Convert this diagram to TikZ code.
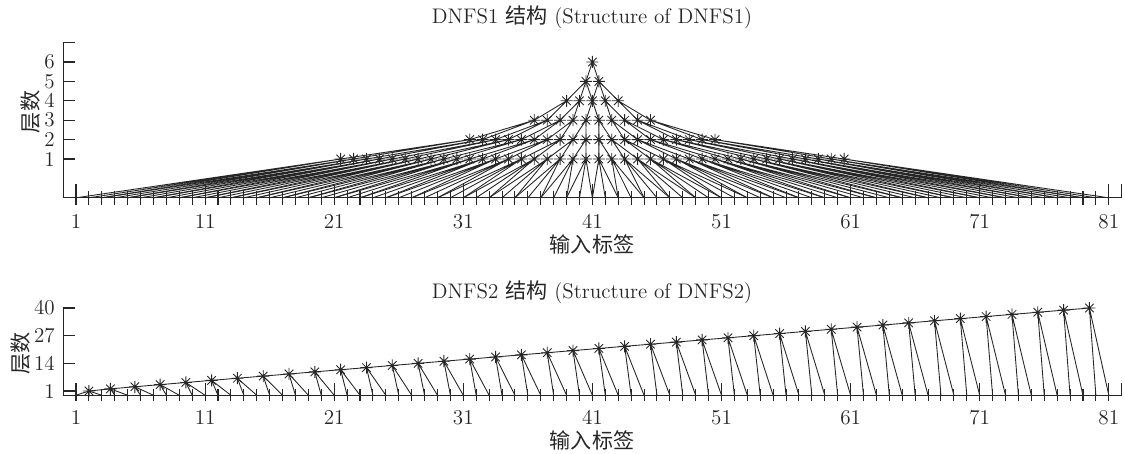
\documentclass[tikz,border=0pt]{standalone}
\usepackage{fontspec}
\newfontfamily\cjk{Noto Sans CJK SC}
\usetikzlibrary{calc}
\definecolor{plotink}{HTML}{262626}

\tikzset{
  link/.style={draw=plotink, line width=0.5pt},
  axisline/.style={draw=plotink, line width=0.6pt},
  ticklab/.style={font=\fontsize{12}{14}\selectfont, text=plotink, inner sep=0pt},
  titlelab/.style={font=\fontsize{12}{14}\selectfont, text=plotink, inner sep=0pt},
  pics/starmark/.style={code={
    \draw[plotink, line width=0.5pt] (-0.12cm,0) -- (0.12cm,0) (0,-0.12cm) -- (0,0.12cm)
      (-0.085cm,-0.085cm) -- (0.085cm,0.085cm) (-0.085cm,0.085cm) -- (0.085cm,-0.085cm);
  }},
}

\begin{document}
\begin{tikzpicture}
  \useasboundingbox (0,0) rectangle (22.5,9.06);

  % titles and axis names
  \node[titlelab] (title1) at (11.84,8.72) {DNFS1 {\cjk 结构} (Structure of DNFS1)};
  \node[titlelab] (xname1) at (11.84,4.18) {\cjk 输入标签};
  \node[titlelab, rotate=90] (yname1) at (0.62,6.82) {\cjk 层数};
  \node[titlelab] (title2) at (11.84,3.22) {DNFS2 {\cjk 结构} (Structure of DNFS2)};
  \node[titlelab] (xname2) at (11.84,0.26) {\cjk 输入标签};
  \node[titlelab, rotate=90] (yname2) at (0.42,2.0) {\cjk 层数};

  % DNFS1
  \begin{scope}[shift={(1.2618,5.492)}, x=0.2582cm, y=0.388cm]
    \draw[axisline] (0,7) -- (0,-1) -- (82,-1);
    \foreach \v in {1,...,7} \draw[axisline] (0,\v) -- ++(0.24cm,0);
    \foreach \v in {1,...,6}
      \node[ticklab, anchor=east] (ya-\v) at ([xshift=-0.16cm]0,\v) {\v};
    \foreach \i in {1,...,81} {
      \coordinate (p-\i) at (\i,-1);
      \draw[axisline] ([yshift=-0.14cm]p-\i) -- ([yshift=0.14cm]p-\i);
    }
    \foreach \i in {1,11,...,81} {
      \draw[axisline] (p-\i) -- ++(0,0.28cm);
      \node[ticklab] (xa-\i) at ([yshift=-0.48cm]p-\i) {\i};
    }
    \draw[axisline] (82,-1) -- ++(0,0.28cm);

    % tree levels
    \foreach \j in {1,...,40} \coordinate (a-\j) at ({20.5+\j},1);
    \foreach \j in {1,...,20} \coordinate (b-\j) at ({30.5+\j},2);
    \foreach \j in {1,...,10} \coordinate (c-\j) at ({35.5+\j},3);
    \foreach \j in {1,...,5}  \coordinate (d-\j) at ({38+\j},4);
    \foreach \j in {1,2}      \coordinate (e-\j) at ({39.5+\j},5);
    \coordinate (f-1) at (41,6);

    \foreach \j in {1,...,40} {
      \pgfmathtruncatemacro\ia{2*\j-1}
      \pgfmathtruncatemacro\ib{2*\j}
      \pgfmathtruncatemacro\ic{2*\j+1}
      \draw[link] (p-\ia) -- (a-\j) -- (p-\ic) (a-\j) -- (p-\ib);
    }
    \foreach \up/\dn/\n in {b/a/20, c/b/10, d/c/5} {
      \foreach \j in {1,...,\n} {
        \pgfmathtruncatemacro\ia{2*\j-1}
        \pgfmathtruncatemacro\ib{2*\j}
        \draw[link] (\dn-\ia) -- (\up-\j) -- (\dn-\ib);
      }
    }
    \draw[link] (d-1) -- (e-1) -- (d-3) (d-2) -- (e-1);
    \draw[link] (d-3) -- (e-2) -- (d-5) (d-4) -- (e-2);
    \draw[link] (e-1) -- (f-1) -- (e-2);

    \foreach \j in {1,...,40} \pic at (a-\j) {starmark};
    \foreach \j in {1,...,20} \pic at (b-\j) {starmark};
    \foreach \j in {1,...,10} \pic at (c-\j) {starmark};
    \foreach \j in {1,...,5}  \pic at (d-\j) {starmark};
    \foreach \j in {1,2}      \pic at (e-\j) {starmark};
    \pic at (f-1) {starmark};
  \end{scope}

  % DNFS2
  \begin{scope}[shift={(1.2618,1.1974)}, x=0.2582cm, y=0.04256cm]
    \draw[axisline] (0,40) -- (0,-1) -- (82,-1);
    \foreach \v in {1,14,27,40} {
      \draw[axisline] (0,\v) -- ++(0.24cm,0);
      \node[ticklab, anchor=east] (yb-\v) at ([xshift=-0.16cm]0,\v) {\v};
    }
    \foreach \i in {1,...,81} {
      \coordinate (q-\i) at (\i,-1);
      \draw[axisline] ([yshift=-0.12cm]q-\i) -- ([yshift=0.12cm]q-\i);
    }
    \foreach \i in {1,11,...,81} {
      \draw[axisline] (q-\i) -- ++(0,0.24cm);
      \node[ticklab] (xb-\i) at ([yshift=-0.44cm]q-\i) {\i};
    }
    \draw[axisline] (82,-1) -- ++(0,0.24cm);

    % chain
    \xdef\chainpos{2}
    \coordinate (s-1) at (2,1);
    \foreach \k in {2,...,40} {
      \pgfmathsetmacro\newpos{(\chainpos+4*\k+1)/3}
      \xdef\chainpos{\newpos}
      \coordinate (s-\k) at (\chainpos,\k);
    }
    \draw[link] (q-1) -- (s-1) -- (q-3) (s-1) -- (q-2);
    \foreach \k in {2,...,40} {
      \pgfmathtruncatemacro\prev{\k-1}
      \pgfmathtruncatemacro\ia{2*\k}
      \pgfmathtruncatemacro\ib{2*\k+1}
      \draw[link] (s-\prev) -- (s-\k) -- (q-\ia) (s-\k) -- (q-\ib);
    }
    \foreach \k in {1,...,40} \pic at (s-\k) {starmark};
  \end{scope}
\end{tikzpicture}
\end{document}
